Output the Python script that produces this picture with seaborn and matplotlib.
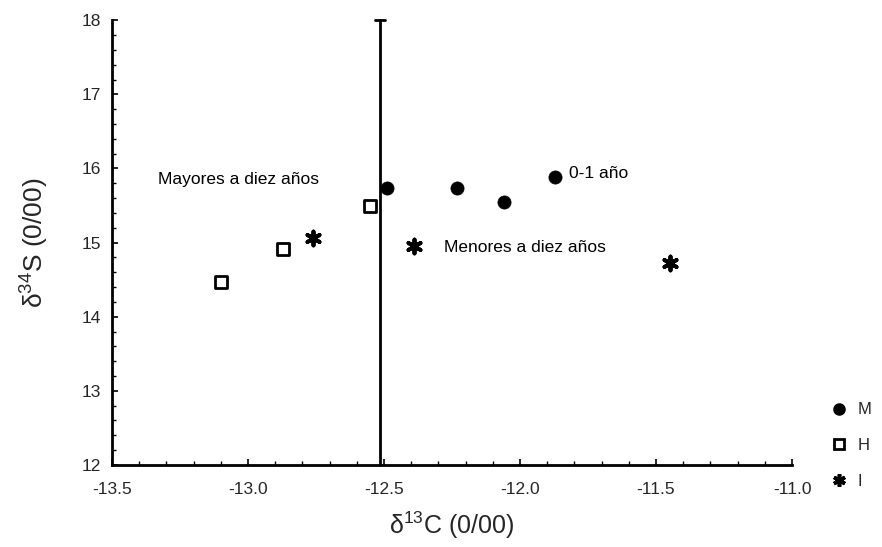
import matplotlib
matplotlib.use("Agg")
import matplotlib.pyplot as plt
import seaborn as sns
import pandas as pd
import numpy as np
from matplotlib.lines import Line2D
from matplotlib.ticker import MultipleLocator

# data
m_x = [-12.49, -12.23, -12.06, -11.87]
m_y = [15.74, 15.74, 15.55, 15.88]
h_x = [-12.55, -12.87, -13.10]
h_y = [15.49, 14.91, 14.47]
i_x = [-12.76, -12.39, -11.45]
i_y = [15.06, 14.96, 14.73]
groups = ["M", "H", "I"]
x_ticks = [-13.5, -13.0, -12.5, -12.0, -11.5, -11.0]
y_ticks = [12, 13, 14, 15, 16, 17, 18]
annotations = [("Mayores a diez años", -13.33, 15.85),
               ("0-1 año", -11.82, 15.93),
               ("Menores a diez años", -12.28, 14.93)]
divider_x = -12.515

sns.set_style("white")
plt.rcParams['font.family'] = ['Liberation Sans', 'DejaVu Sans']

fig = plt.figure(figsize=(8.82, 5.47), dpi=100)
ax = fig.add_axes([0.127, 0.150, 0.771, 0.813])

df_m = pd.DataFrame({"x": m_x, "y": m_y})
df_h = pd.DataFrame({"x": h_x, "y": h_y})
df_i = pd.DataFrame({"x": i_x, "y": i_y})

sns.scatterplot(data=df_m, x="x", y="y", ax=ax, marker="o", s=90,
                color="black", edgecolor="black", linewidth=0.5, zorder=3)
sns.scatterplot(data=df_h, x="x", y="y", ax=ax, marker="s", s=70,
                facecolor="white", edgecolor="black", linewidth=2, zorder=3)
sns.scatterplot(data=df_i, x="x", y="y", ax=ax, marker=(6, 2, 0), s=100,
                color="black", linewidth=2.8, zorder=3)

ax.plot([divider_x, divider_x], [y_ticks[0], y_ticks[-1]], color="black", lw=2, zorder=2, clip_on=False)
ax.plot([divider_x - 0.02, divider_x + 0.02], [y_ticks[-1], y_ticks[-1]], color="black", lw=2, clip_on=False)

for t, x, y in annotations:
    ax.text(x, y, t, fontsize=12.5, ha="left", va="center", color="black")

ax.set_xlim(x_ticks[0], x_ticks[-1])
ax.set_ylim(y_ticks[0], y_ticks[-1])
ax.set_xticks(x_ticks)
ax.set_xticklabels([f"{v:.1f}" for v in x_ticks])
ax.set_yticks(y_ticks)
ax.xaxis.set_minor_locator(MultipleLocator(0.1))
ax.yaxis.set_minor_locator(MultipleLocator(0.2))
ax.tick_params(axis="both", which="major", direction="in", length=4, width=1.2,
               labelsize=12.5, color="black")
ax.tick_params(axis="x", which="major", pad=12)
ax.tick_params(axis="y", which="major", pad=8)
ax.tick_params(axis="both", which="minor", direction="in", length=3, width=1, color="black")
ax.tick_params(bottom=True, left=True, which="both")

for s in ["top", "right"]:
    ax.spines[s].set_visible(False)
for s in ["left", "bottom"]:
    ax.spines[s].set_color("black")
    ax.spines[s].set_linewidth(2)

ax.set_xlabel(r"$\mathregular{\delta^{13}}$C (0/00)", fontsize=18, labelpad=9)
ax.set_ylabel(r"$\mathregular{\delta^{34}}$S (0/00)", fontsize=19, labelpad=22)

handles = [
    Line2D([], [], marker="o", color="black", linestyle="none", markersize=8),
    Line2D([], [], marker="s", markerfacecolor="white", markeredgecolor="black",
           markeredgewidth=2, linestyle="none", markersize=7),
    Line2D([], [], marker=(6, 2, 0), color="black", markeredgewidth=2.6,
           linestyle="none", markersize=9),
]
ax.legend(handles, groups, loc="center left", bbox_to_anchor=(1.035, 0.043),
          frameon=False, fontsize=12, labelspacing=1.25, handlelength=1.0,
          handletextpad=0.6)

fig.savefig("out.png", dpi=100)
